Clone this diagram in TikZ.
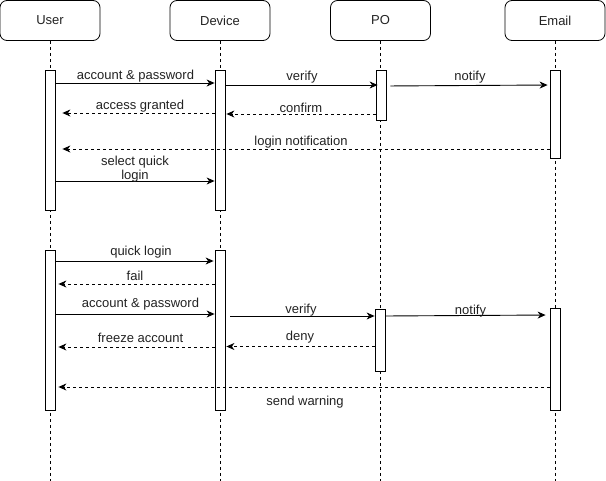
\documentclass[tikz,border=0pt]{standalone}
\usepackage{fontspec}
\setmainfont{Liberation Sans}
\usetikzlibrary{arrows.meta}
\definecolor{txt}{HTML}{222222}
\begin{document}
\begin{tikzpicture}[x=1pt,y=-1pt,
  actor/.style={draw,rounded corners=7pt,minimum width=100pt,minimum height=40pt,
    inner sep=0,line width=0.8pt,text=txt,font=\fontsize{13}{15}\selectfont},
  bar/.style={draw,fill=white,minimum width=10pt,anchor=north,inner sep=0,line width=0.8pt},
  life/.style={line width=0.8pt,dash pattern=on 3pt off 3pt},
  msg/.style={line width=0.9pt,-{Stealth[length=8pt,width=7pt,inset=2.5pt]}},
  ret/.style={msg,dash pattern=on 3pt off 3pt},
  lbl/.style={inner sep=0,text=txt,font=\fontsize{13}{14}\selectfont,align=center,yshift=-1pt}
]
\useasboundingbox (0,0) rectangle (606,481);

% participants
\node[actor] (user)   at (50,20.5)  {User};
\node[actor] (device) at (220,20.5) {Device};
\node[actor] (po)     at (380.5,20.5) {PO};
\node[actor] (email)  at (555,20.5) {Email};

% lifelines
\foreach \p in {user,device,po,email}
  \draw[life] (\p.south) -- (\p.south |- 0,481);

% activation bars, first session
\node[bar,minimum height=140pt] (ub1) at (50,70) {};
\node[bar,minimum height=140pt] (db1) at (220,70) {};
\node[bar,minimum height=50pt]  (pb1) at (381,70) {};
\node[bar,minimum height=88pt]  (eb1) at (555,70) {};

% activation bars, second session
\node[bar,minimum height=160pt] (ub2) at (50,250) {};
\node[bar,minimum height=160pt] (db2) at (220,250) {};
\node[bar,minimum height=62pt]  (pb2) at (380,309) {};
\node[bar,minimum height=102pt] (eb2) at (555,308) {};

% first session messages
\draw[msg] (ub1.east |- 0,83) -- (db1.west |- 0,83);
\node[lbl] (m1) at (135.5,75) {account \& password};

\draw[msg,shorten >=-2pt] (db1.east |- 0,85) -- (pb1.west |- 0,85);
\node[lbl] (m2) at (302,76) {verify};

\draw[msg,shorten <=4pt,shorten >=2pt] (pb1.east |- 0,86) -- (eb1.west |- 0,85);
\node[lbl] (m3) at (470,76.5) {notify};

\draw[ret,shorten >=1pt] (pb1.west |- 0,114) -- (db1.east |- 0,114);
\node[lbl] (m4) at (301,106.5) {confirm};

\draw[ret,shorten >=7pt] (db1.west |- 0,113) -- (ub1.east |- 0,113);
\node[lbl] (m5) at (140,105.5) {access granted};

\draw[ret,shorten >=7pt] (eb1.west |- 0,149) -- (ub1.east |- 0,149);
\node[lbl] (m6) at (301,141.5) {login notification};

\draw[msg] (ub1.east |- 0,181) -- (db1.west |- 0,181);
\node[lbl] (m7) at (135,168) {select quick\\login};

% second session messages
\draw[msg,shorten >=1pt] (ub2.east |- 0,261) -- (db2.west |- 0,261);
\node[lbl] (n1) at (141,251) {quick login};

\draw[ret,shorten >=3pt] (db2.west |- 0,284) -- (ub2.east |- 0,284);
\node[lbl] (n2) at (135,274.5) {fail};

\draw[msg,shorten <=1pt] (ub2.east |- 0,314) -- (db2.west |- 0,314);
\node[lbl] (n3) at (140.5,303.5) {account \& password};

\draw[msg,shorten <=5pt] (db2.east |- 0,316) -- (pb2.west |- 0,316);
\node[lbl] (n4) at (301,309) {verify};

\draw[msg,shorten >=4pt] (pb2.east |- 0,316) -- (eb2.west |- 0,315);
\node[lbl] (n5) at (470.5,310) {notify};

\draw[ret,shorten >=3pt] (db2.west |- 0,347) -- (ub2.east |- 0,347);
\node[lbl] (n6) at (140.5,336.5) {freeze account};

\draw[ret,shorten >=1pt] (pb2.west |- 0,346.5) -- (db2.east |- 0,346.5);
\node[lbl] (n7) at (300,336.5) {deny};

\draw[ret,shorten >=3pt] (eb2.west |- 0,387) -- (ub2.east |- 0,387);
\node[lbl] (n8) at (305,401) {send warning};
\end{tikzpicture}
\end{document}
